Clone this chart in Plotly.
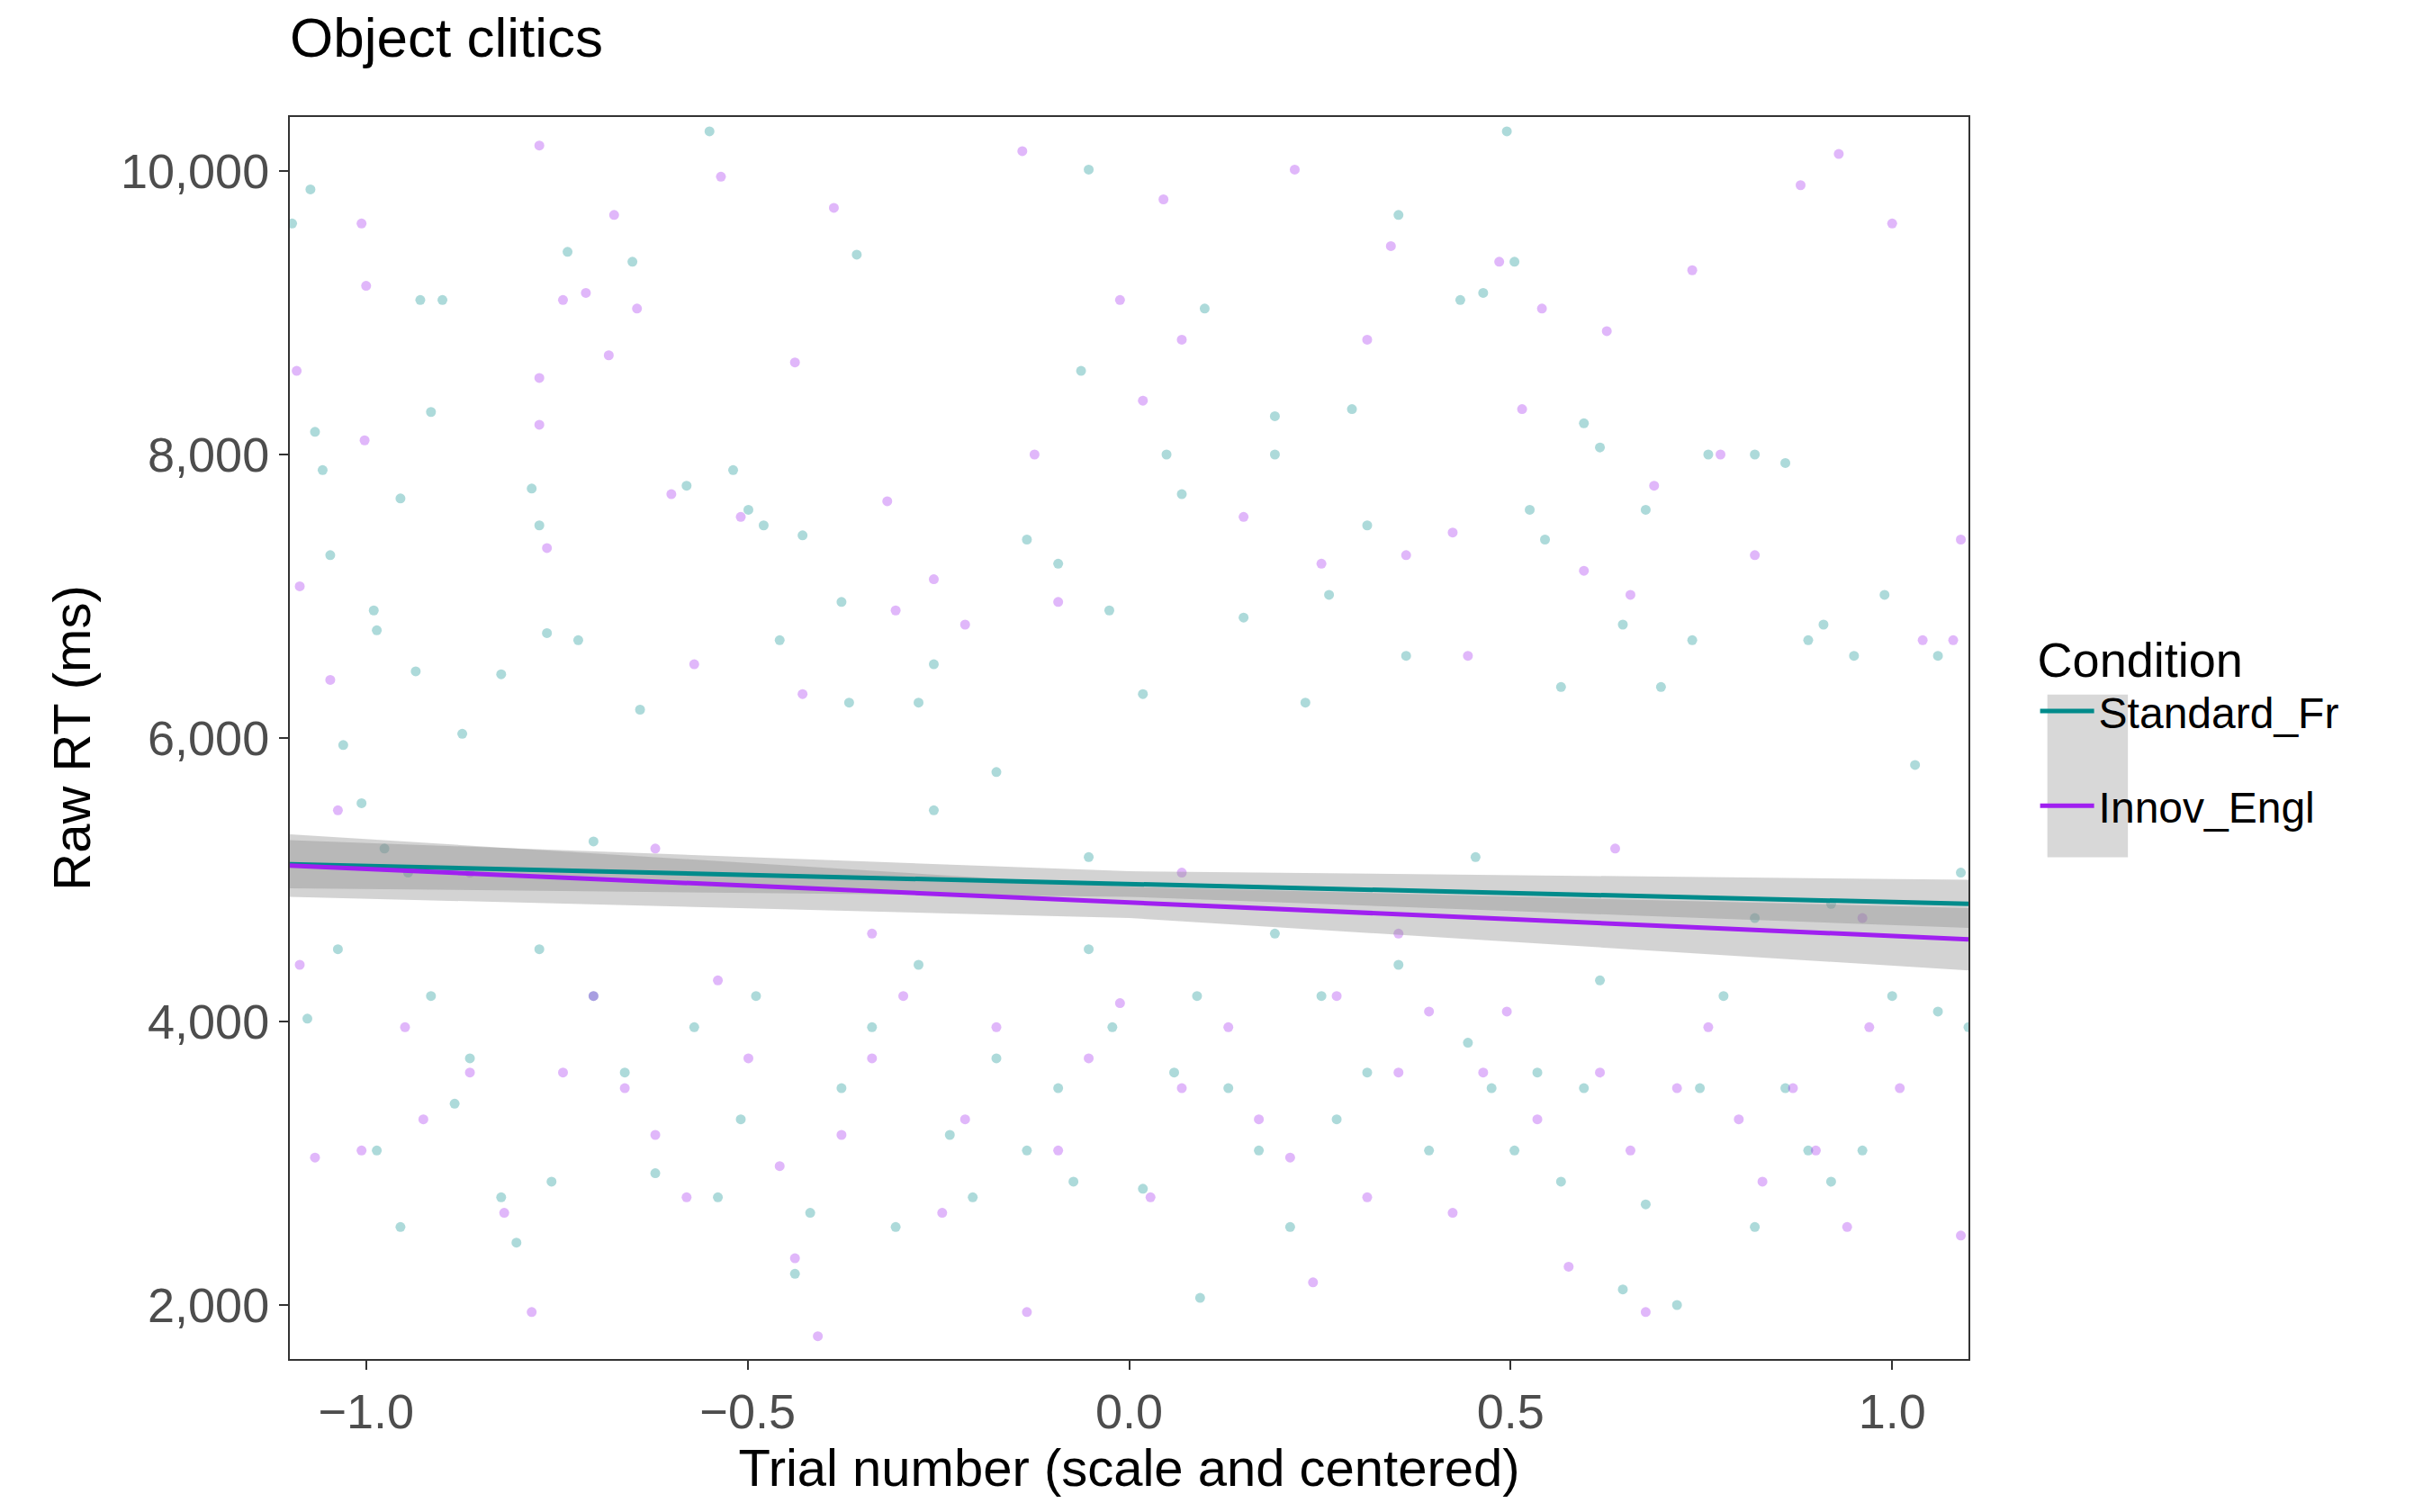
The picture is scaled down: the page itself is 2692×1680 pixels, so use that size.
import plotly.graph_objects as go

# Scatter points (approximate)
std_x = [-1.097,-1.073,-1.067,-1.057,-1.047,-0.99,-0.986,-1.03,-1.006,-0.976,-0.935,-0.929,-0.9,-0.915,-0.955,-0.823,-0.783,-0.773,-0.763,-0.722,-0.736,-0.773,-0.874,-0.651,-0.641,-0.58,-0.55,-0.519,-0.499,-0.479,-0.458,-0.428,-0.377,-0.357,-0.367,-0.276,-0.256,-0.174,-0.134,-0.093,-0.063,-0.053,-0.026,0.018,0.049,0.069,0.099,0.15,0.191,0.191,0.231,0.262,0.292,0.312,0.353,0.363,0.434,0.464,0.495,0.505,0.525,0.545,0.566,0.596,0.617,0.647,0.677,0.697,0.738,0.759,0.82,0.86,0.89,0.91,0.95,0.99,1.03,1.06,1.09,
         -1.077,-1.037,-0.986,-0.955,-0.915,-0.884,-0.864,-0.823,-0.803,-0.757,-0.702,-0.661,-0.621,-0.57,-0.539,-0.509,-0.489,-0.438,-0.418,-0.377,-0.337,-0.306,-0.276,-0.235,-0.205,-0.174,-0.134,-0.093,-0.073,-0.053,-0.022,0.018,0.059,0.089,0.093,0.13,0.17,0.211,0.252,0.272,0.312,0.353,0.393,0.444,0.475,0.505,0.535,0.566,0.596,0.617,0.647,0.677,0.718,0.748,0.779,0.82,0.86,0.89,0.92,0.961,1.0,1.06,1.1,
         -0.945,-0.702,-0.256,-0.053,0.191,0.454,0.82,0.92]
std_y = [9630,9870,8160,7890,7290,6900,6760,5950,5540,5220,6470,9090,9090,8300,7690,6450,7760,7500,6740,6690,9430,4510,6030,9360,6200,7780,10280,7890,7610,7500,6690,7430,6960,9410,6250,6250,6520,5760,7400,7230,8590,10010,6900,6310,8000,7720,9030,6850,8270,8000,6250,7010,8320,7500,9690,6580,9090,9140,10280,9360,7610,7400,6360,8220,8050,6800,7610,6360,6690,8000,8000,7940,6690,6800,6580,7010,5810,6580,5050,
         4020,4510,3090,2550,4180,3420,3740,2760,2440,2870,4180,3640,2930,3960,2760,3310,4180,2220,2650,3530,3960,2550,4400,3200,2760,3740,3090,3530,2870,4510,3960,2820,3640,4180,2050,3530,3090,2550,4180,3310,3640,4400,3090,3850,3530,3090,3640,2870,3530,4290,2110,2710,2000,3530,4180,2550,3530,3090,2870,3090,4180,4070,3960,
         5050,5270,5490,5160,4620,5160,4730,4830]

inn_x = [-1.091,-1.087,-1.006,-1.0,-1.002,-1.047,-0.773,-0.773,-0.773,-0.763,-0.742,-0.712,-0.675,-0.645,-0.682,-0.6,-0.57,-0.535,-0.509,-0.438,-0.428,-0.387,-0.317,-0.306,-0.256,-0.215,-0.14,-0.124,-0.093,-0.012,0.018,0.045,0.069,0.15,0.217,0.252,0.312,0.343,0.363,0.424,0.444,0.485,0.515,0.541,0.596,0.626,0.657,0.688,0.738,0.775,0.82,0.88,0.93,1.0,1.04,1.08,1.09,
         -1.087,-1.067,-1.006,-0.949,-0.925,-0.864,-0.819,-0.783,-0.742,-0.702,-0.661,-0.621,-0.58,-0.539,-0.499,-0.458,-0.438,-0.408,-0.377,-0.337,-0.296,-0.245,-0.215,-0.174,-0.134,-0.093,-0.053,-0.012,0.028,0.069,0.13,0.17,0.211,0.241,0.272,0.312,0.353,0.393,0.424,0.464,0.495,0.535,0.576,0.617,0.657,0.677,0.718,0.759,0.799,0.83,0.87,0.9,0.941,0.97,1.01,1.09,
         -1.037,-0.864,-0.621,-0.337,0.069,0.353,0.637,0.961]
inn_y = [8590,7070,9630,9190,8100,6410,10180,8540,8210,7340,9090,9140,9690,9030,8700,7720,6520,9960,7560,8650,6310,9740,7670,6900,7120,6800,10140,8000,6960,9090,8380,9800,8810,7560,10010,7230,8810,9470,7290,7450,6580,9360,8320,9030,7180,8870,7010,7780,9300,8000,7290,9900,10120,9630,6690,6690,7400,
         4400,3040,3090,3960,3310,3640,2650,1950,3640,4180,3530,3200,2760,4290,3740,2980,2330,1780,3200,3740,4180,2650,3310,3960,1950,3090,3740,4130,2760,3530,3960,3310,3040,2160,4180,2760,3640,4070,2650,3640,4070,3310,2270,3640,3090,1950,3530,3960,3310,2870,3530,3090,2550,3960,3530,2490,
         5490,5050,5220,4620,5050,4620,5220,4730]

# Fitted lines with confidence bands
fit_x = [-1.1, 0.0, 1.1]
std_fit = [5110, 4970, 4830]
std_lo = [4940, 4880, 4660]
std_hi = [5280, 5060, 5000]
inn_fit = [5100, 4840, 4580]
inn_lo = [4880, 4730, 4360]
inn_hi = [5320, 4950, 4800]

TEAL = "#008B8B"
PURPLE = "#A020F0"
BAND = "rgba(140,140,140,0.38)"

fig = go.Figure()
fig.add_trace(go.Scatter(x=std_x, y=std_y, mode="markers", showlegend=False,
                         marker=dict(color=TEAL, size=11, opacity=0.32, line=dict(width=0))))
fig.add_trace(go.Scatter(x=inn_x, y=inn_y, mode="markers", showlegend=False,
                         marker=dict(color=PURPLE, size=11, opacity=0.32, line=dict(width=0))))
for lo, hi in [(std_lo, std_hi), (inn_lo, inn_hi)]:
    fig.add_trace(go.Scatter(x=fit_x + fit_x[::-1], y=hi + lo[::-1], fill="toself",
                             fillcolor=BAND, line=dict(width=0), mode="lines",
                             showlegend=False, hoverinfo="skip"))
fig.add_trace(go.Scatter(x=fit_x, y=std_fit, mode="lines", name="Standard_Fr",
                         legendgroup="a", line=dict(color=TEAL, width=5)))
fig.add_trace(go.Scatter(x=fit_x, y=inn_fit, mode="lines", name="Innov_Engl",
                         legendgroup="b", line=dict(color=PURPLE, width=5)))

font = "Liberation Sans, Arial, sans-serif"
axis_common = dict(showgrid=False, zeroline=False, showline=True, mirror=True,
                   linecolor="#333333", linewidth=2, ticks="outside", ticklen=10,
                   tickwidth=2, tickcolor="#333333",
                   tickfont=dict(size=54, color="#4d4d4d", family=font))
fig.update_layout(
    width=2692, height=1680,
    paper_bgcolor="white", plot_bgcolor="white",
    margin=dict(l=314, r=513, t=122, b=178),
    title=dict(text="Object clitics", x=314/2692, xanchor="left", y=0.993, yanchor="top",
               font=dict(size=62, color="black", family=font)),
    xaxis=dict(range=[-1.1, 1.1], tickvals=[-1.0, -0.5, 0.0, 0.5, 1.0],
               ticktext=["−1.0", "−0.5", "0.0", "0.5", "1.0"],
               title=dict(text="Trial number (scale and centered)", standoff=8,
                          font=dict(size=58, color="black", family=font)), **axis_common),
    yaxis=dict(range=[1619, 10381], tickvals=[2000, 4000, 6000, 8000, 10000],
               tickformat=",d",
               title=dict(text="Raw RT (ms)", standoff=15,
                          font=dict(size=58, color="black", family=font)), **axis_common),
    legend=dict(x=1.04, xanchor="left", y=0.6, yanchor="top",
                title=dict(text="Condition", font=dict(size=54, color="black", family=font)),
                font=dict(size=48, color="black", family=font), itemwidth=60,
                tracegroupgap=40, bgcolor="rgba(0,0,0,0)"),
    shapes=[dict(type="rect", xref="paper", yref="paper", x0=1.047, x1=1.095,
                 y0=0.404, y1=0.535, fillcolor="rgba(190,190,190,0.6)",
                 line=dict(width=0), layer="below")],
)
fig.write_html("out.html")
